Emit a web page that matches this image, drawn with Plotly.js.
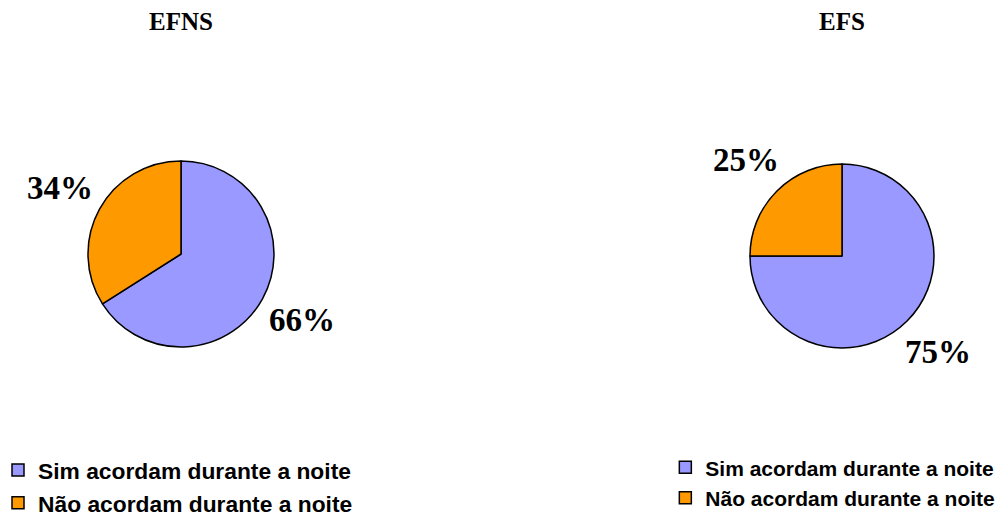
<!DOCTYPE html>
<html>
<head>
<meta charset="utf-8">
<script src="https://cdn.plot.ly/plotly-3.0.1.min.js"></script>
<style>html,body{margin:0;padding:0;background:#fff;}#chart{width:999px;height:517px;}</style>
</head>
<body>
<div id="chart"></div>
<script>
const categories = ["Sim acordam durante a noite", "Não acordam durante a noite"];
const efnsValues = [66, 34];
const efsValues = [75, 25];
const chartTitles = ["EFNS", "EFS"];
const sliceColors = ["#9999FF", "#FF9900"];

const W = 999, H = 517;
const pies = [
  {cx: 181, cy: 254, r: 93, values: efnsValues, title: chartTitles[0]},
  {cx: 842, cy: 256, r: 92, values: efsValues, title: chartTitles[1]}
];
function dom(p) {
  return {x: [(p.cx - p.r) / W, (p.cx + p.r) / W], y: [1 - (p.cy + p.r) / H, 1 - (p.cy - p.r) / H]};
}

const serif = "Liberation Serif, Times New Roman, serif";
const sans = "Liberation Sans, Arial, sans-serif";

const traces = pies.map((p, i) => ({
  type: "pie",
  labels: categories,
  values: p.values,
  name: p.title,
  sort: false,
  direction: "clockwise",
  rotation: 0,
  textinfo: "none",
  marker: {colors: sliceColors, line: {color: "#000", width: 1.5}},
  hoverinfo: "label+percent",
  domain: dom(p),
  legend: i === 0 ? "legend" : "legend2",
  legendgroup: "g" + i
}));

// percentage labels placed along each slice's mid-angle, computed from the values
const annotations = [];
pies.forEach(p => {
  const total = p.values.reduce((a, b) => a + b, 0);
  let acc = 0;
  p.values.forEach(v => {
    const mid = (acc + v / 2) / total * 2 * Math.PI;
    acc += v;
    const d = p.r * 1.48;
    const px = p.cx + d * Math.sin(mid);
    const py = p.cy - d * Math.cos(mid);
    annotations.push({
      text: "<b>" + Math.round(v / total * 100) + "%</b>",
      x: px / W, y: 1 - py / H, xref: "paper", yref: "paper",
      xanchor: "center", yanchor: "middle", showarrow: false,
      font: {family: serif, size: 33, color: "#000"}
    });
  });
  annotations.push({
    text: "<b>" + p.title + "</b>", x: p.cx / W, y: 1 - 22 / H, xref: "paper", yref: "paper",
    xanchor: "center", yanchor: "middle", showarrow: false,
    font: {family: serif, size: 25, color: "#000"}
  });
});

const layout = {
  width: W, height: H,
  margin: {l: 0, r: 0, t: 0, b: 0, autoexpand: false},
  paper_bgcolor: "#fff",
  showlegend: true,
  legend: {x: -0.002, y: 0.132, xanchor: "left", yanchor: "top", font: {family: sans, size: 22.8, color: "#000", weight: "bold"}, bgcolor: "rgba(0,0,0,0)"},
  legend2: {x: 0.666, y: 0.135, xanchor: "left", yanchor: "top", font: {family: sans, size: 21, color: "#000", weight: "bold"}, bgcolor: "rgba(0,0,0,0)"},
  annotations: annotations
};

Plotly.newPlot("chart", traces, layout, {displayModeBar: false, staticPlot: true});
</script>
</body>
</html>
